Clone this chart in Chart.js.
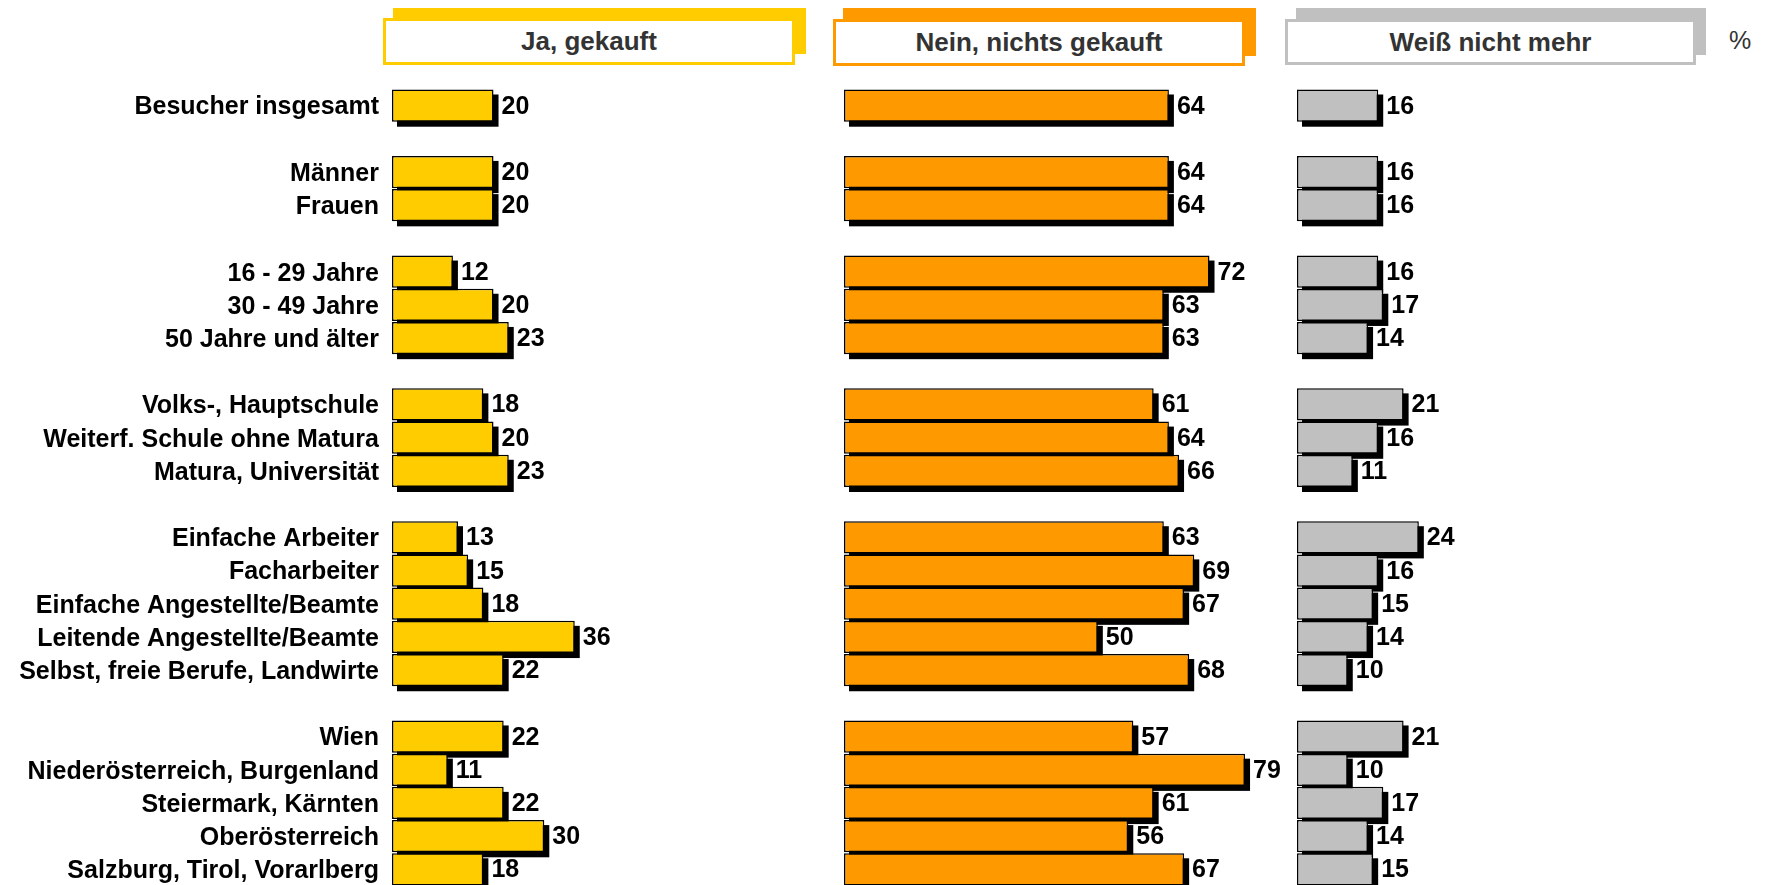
<!DOCTYPE html>
<html>
<head>
<meta charset="utf-8">
<script src="https://cdn.jsdelivr.net/npm/chart.js@4.4.1/dist/chart.umd.min.js"></script>
<style>
html, body { margin: 0; padding: 0; background: #fff; }
body { width: 1773px; height: 885px; overflow: hidden; position: relative; font-family: "Liberation Sans", Arial, sans-serif; }
.hshadow { position: absolute; }
.hbox { position: absolute; box-sizing: border-box; background: #fff; border: 3px solid; display: flex; align-items: center; justify-content: center; font-weight: bold; font-size: 26px; color: #333; }
.pct { position: absolute; left: 1729px; top: 26px; font-size: 25px; color: #333; }
.panel { position: absolute; top: 88.5px; height: 797px; }
</style>
</head>
<body>

<!-- column headers -->
<div class="hshadow" style="left:393px;top:8px;width:413px;height:46px;background:#FFCC00"></div>
<div class="hbox" style="left:383px;top:18px;width:412px;height:47px;border-color:#FFCC00">Ja, gekauft</div>
<div class="hshadow" style="left:843px;top:8px;width:413px;height:48px;background:#FF9900"></div>
<div class="hbox" style="left:833px;top:19px;width:412px;height:47px;border-color:#FF9900">Nein, nichts gekauft</div>
<div class="hshadow" style="left:1296px;top:8px;width:410px;height:47px;background:#C0C0C0"></div>
<div class="hbox" style="left:1285px;top:19px;width:411px;height:46px;border-color:#C0C0C0">Weiß nicht mehr</div>
<div class="pct">%</div>

<div class="panel" style="left:0;width:852px"><canvas id="jaChart"></canvas></div>
<div class="panel" style="left:843.7px;width:460px"><canvas id="neinChart"></canvas></div>
<div class="panel" style="left:1297px;width:460px"><canvas id="weissChart"></canvas></div>

<script>
// row labels, blank entries are the gaps between groups
const groups = [
    'Besucher insgesamt', '',
    'Männer', 'Frauen', '',
    '16 - 29 Jahre', '30 - 49 Jahre', '50 Jahre und älter', '',
    'Volks-, Hauptschule', 'Weiterf. Schule ohne Matura', 'Matura, Universität', '',
    'Einfache Arbeiter', 'Facharbeiter', 'Einfache Angestellte/Beamte', 'Leitende Angestellte/Beamte', 'Selbst, freie Berufe, Landwirte', '',
    'Wien', 'Niederösterreich, Burgenland', 'Steiermark, Kärnten', 'Oberösterreich', 'Salzburg, Tirol, Vorarlberg'
];

const jaGekauft = [20, null, 20, 20, null, 12, 20, 23, null, 18, 20, 23, null, 13, 15, 18, 36, 22, null, 22, 11, 22, 30, 18];
const neinGekauft = [64, null, 64, 64, null, 72, 63, 63, null, 61, 64, 66, null, 63, 69, 67, 50, 68, null, 57, 79, 61, 56, 67];
const weissNicht = [16, null, 16, 16, null, 16, 17, 14, null, 21, 16, 11, null, 24, 16, 15, 14, 10, null, 21, 10, 17, 14, 15];

const FONT = '"Liberation Sans", Arial, sans-serif';

// black drop shadow under each bar + value text right of it
const barShadow = {
    id: 'barShadow',
    beforeDatasetsDraw(chart) {
        const ctx = chart.ctx;
        const data = chart.data.datasets[0].data;
        ctx.save();
        ctx.fillStyle = '#000';
        chart.getDatasetMeta(0).data.forEach((bar, i) => {
            if (data[i] == null) return;
            const { x, y, base, height } = bar.getProps(['x', 'y', 'base', 'height'], true);
            ctx.fillRect(base + 5, y - height / 2 + 5, x - base, height);
        });
        ctx.restore();
    },
    afterDatasetsDraw(chart) {
        const ctx = chart.ctx;
        const data = chart.data.datasets[0].data;
        ctx.save();
        ctx.fillStyle = '#000';
        ctx.font = 'bold 25px ' + FONT;
        ctx.textAlign = 'left';
        ctx.textBaseline = 'alphabetic';
        chart.getDatasetMeta(0).data.forEach((bar, i) => {
            if (data[i] == null) return;
            const { x, y } = bar.getProps(['x', 'y'], true);
            ctx.fillText(String(data[i]), x + 8, y + 8);
        });
        ctx.restore();
    }
};

function makeChart(id, values, color, showLabels) {
    new Chart(document.getElementById(id), {
        type: 'bar',
        data: {
            labels: groups,
            datasets: [{
                data: values,
                backgroundColor: color,
                borderColor: '#000',
                borderWidth: 1.5,
                borderSkipped: false,
                barPercentage: 0.97,
                categoryPercentage: 1
            }]
        },
        options: {
            indexAxis: 'y',
            responsive: true,
            maintainAspectRatio: false,
            animation: false,
            layout: { padding: { left: 0, right: 28.5, top: 0, bottom: 0 } },
            plugins: { legend: { display: false }, tooltip: { enabled: false } },
            scales: {
                x: { display: false, min: 0, max: 85 },
                y: {
                    display: showLabels,
                    grid: { display: false, drawTicks: false },
                    border: { display: false },
                    ticks: {
                        autoSkip: false,
                        padding: 13,
                        labelOffset: 2,
                        color: '#000',
                        font: { family: FONT, weight: 'bold', size: 25 }
                    },
                    afterFit(scale) {
                        scale.width = showLabels ? 392 : 0;
                        scale.paddingTop = 0;
                        scale.paddingBottom = 0;
                    }
                }
            }
        },
        plugins: [barShadow]
    });
}

makeChart('jaChart', jaGekauft, '#FFCC00', true);
makeChart('neinChart', neinGekauft, '#FF9900', false);
makeChart('weissChart', weissNicht, '#C0C0C0', false);
</script>
</body>
</html>
